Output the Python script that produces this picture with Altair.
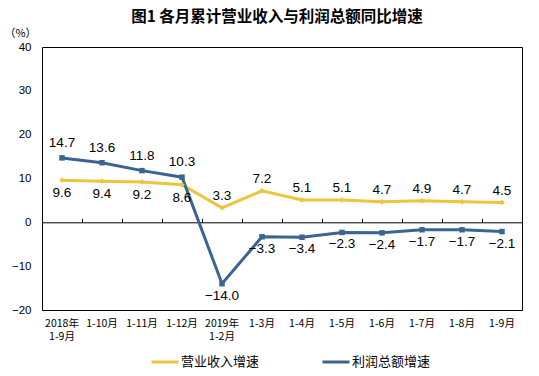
import altair as alt
import pandas as pd

categories = ["2018年\n1-9月", "1-10月", "1-11月", "1-12月", "2019年\n1-2月",
              "1-3月", "1-4月", "1-5月", "1-6月", "1-7月", "1-8月", "1-9月"]
revenue = [9.6, 9.4, 9.2, 8.6, 3.3, 7.2, 5.1, 5.1, 4.7, 4.9, 4.7, 4.5]
profit = [14.7, 13.6, 11.8, 10.3, -14.0, -3.3, -3.4, -2.3, -2.4, -1.7, -1.7, -2.1]
series_names = ["营业收入增速", "利润总额增速"]
colors = ["#EBC53B", "#3A6592"]
shapes = ["diamond", "square"]
y_ticks = [-20, -10, 0, 10, 20, 30, 40]

rows = []
for i, c in enumerate(categories):
    rows.append({"cat": c, "idx": i, "series": series_names[0], "v": revenue[i]})
    rows.append({"cat": c, "idx": i, "series": series_names[1], "v": profit[i]})
df = pd.DataFrame(rows)

FONT_CJK = "Noto Sans CJK SC"
FONT_NUM = "Liberation Sans"

xscale = alt.Scale(type="band", domain=categories, paddingInner=0, paddingOuter=0)
yscale = alt.Scale(domain=[-20, 40], nice=False, zero=False)
cscale = alt.Scale(domain=series_names, range=colors)

x_bottom = alt.X("cat:N", scale=xscale, sort=categories, title=None,
                 axis=alt.Axis(orient="bottom", domain=False, ticks=False, labelAngle=0,
                               labelFont=FONT_CJK, labelFontSize=10.5, labelColor="#000",
                               labelPadding=8, labelBaseline="top", labelLineHeight=13,
                               labelExpr="split(datum.label, '\\n')"))
x_none = alt.X("cat:N", scale=xscale, sort=categories, title=None, axis=None)
y_enc = alt.Y("v:Q", scale=yscale,
              axis=alt.Axis(values=y_ticks, domain=False, ticks=False, grid=False,
                            labelFont=FONT_NUM, labelFontSize=11.5, labelColor="#000",
                            labelPadding=11, title="（%）", titleAngle=0,
                            titleFont=FONT_CJK, titleFontSize=11, titleFontWeight="normal",
                            titleX=-22, titleY=-14, titleAlign="center",
                            titleBaseline="middle", titleColor="#000"))
y_plain = alt.Y("v:Q", scale=yscale)

base = alt.Chart(df)

lines = base.mark_line(strokeWidth=3).encode(
    x=x_bottom,
    y=y_enc,
    color=alt.Color("series:N", scale=cscale, sort=series_names,
                    legend=alt.Legend(title=None, orient="none", direction="horizontal",
                                      legendX=108, legendY=300,
                                      symbolType="stroke", symbolSize=729,
                                      symbolStrokeWidth=3, labelFont=FONT_CJK,
                                      labelFontSize=13, labelColor="#000",
                                      labelOffset=1, columnPadding=56)),
    detail="series:N",
)

def point_layer(k):
    return base.transform_filter(alt.datum.series == series_names[k]).mark_point(
        filled=True, size=30, opacity=1, shape=shapes[k], color=colors[k]
    ).encode(x=x_none, y=y_plain)

zero_axis = alt.Chart(pd.DataFrame({"cat": categories, "v": [0] * len(categories)})).mark_rule(opacity=0).encode(
    x=alt.X("cat:N", scale=xscale, sort=categories, title=None,
            axis=alt.Axis(orient="top", offset=-175.3, labels=False, domain=True,
                          domainColor="#000", domainWidth=1, ticks=True, tickColor="#000",
                          tickSize=4, tickBand="extent", grid=False)),
    y=y_plain,
)

def label_layer(series, cond, dy):
    return base.transform_filter(
        (alt.datum.series == series) & cond
    ).mark_text(font=FONT_NUM, fontSize=13.5, color="#000", dy=dy, baseline="middle").encode(
        x=x_none,
        y=y_plain,
        text=alt.Text("v:Q", format=".1f"),
    )

labels = [
    label_layer(series_names[0], alt.datum.idx < 4, 13),
    label_layer(series_names[0], alt.datum.idx >= 4, -12),
    label_layer(series_names[1], alt.datum.idx < 4, -15),
    label_layer(series_names[1], alt.datum.idx >= 4, 12),
]

chart = alt.layer(lines, zero_axis, point_layer(0), point_layer(1), *labels).resolve_axis(
    x="independent"
).properties(
    width=480, height=263,
    title=alt.TitleParams("图1  各月累计营业收入与利润总额同比增速", font=FONT_CJK,
                          fontSize=15.5, fontWeight="bold", color="#000",
                          anchor="middle", dx=-5, offset=2),
    autosize=alt.AutoSizeParams(type="none"),
    padding={"left": 42, "top": 47, "right": 17, "bottom": 66},
    background="white",
).configure_view(stroke="#000", strokeWidth=1)

chart.save("out.html", embed_options={"renderer": "svg", "actions": False})
